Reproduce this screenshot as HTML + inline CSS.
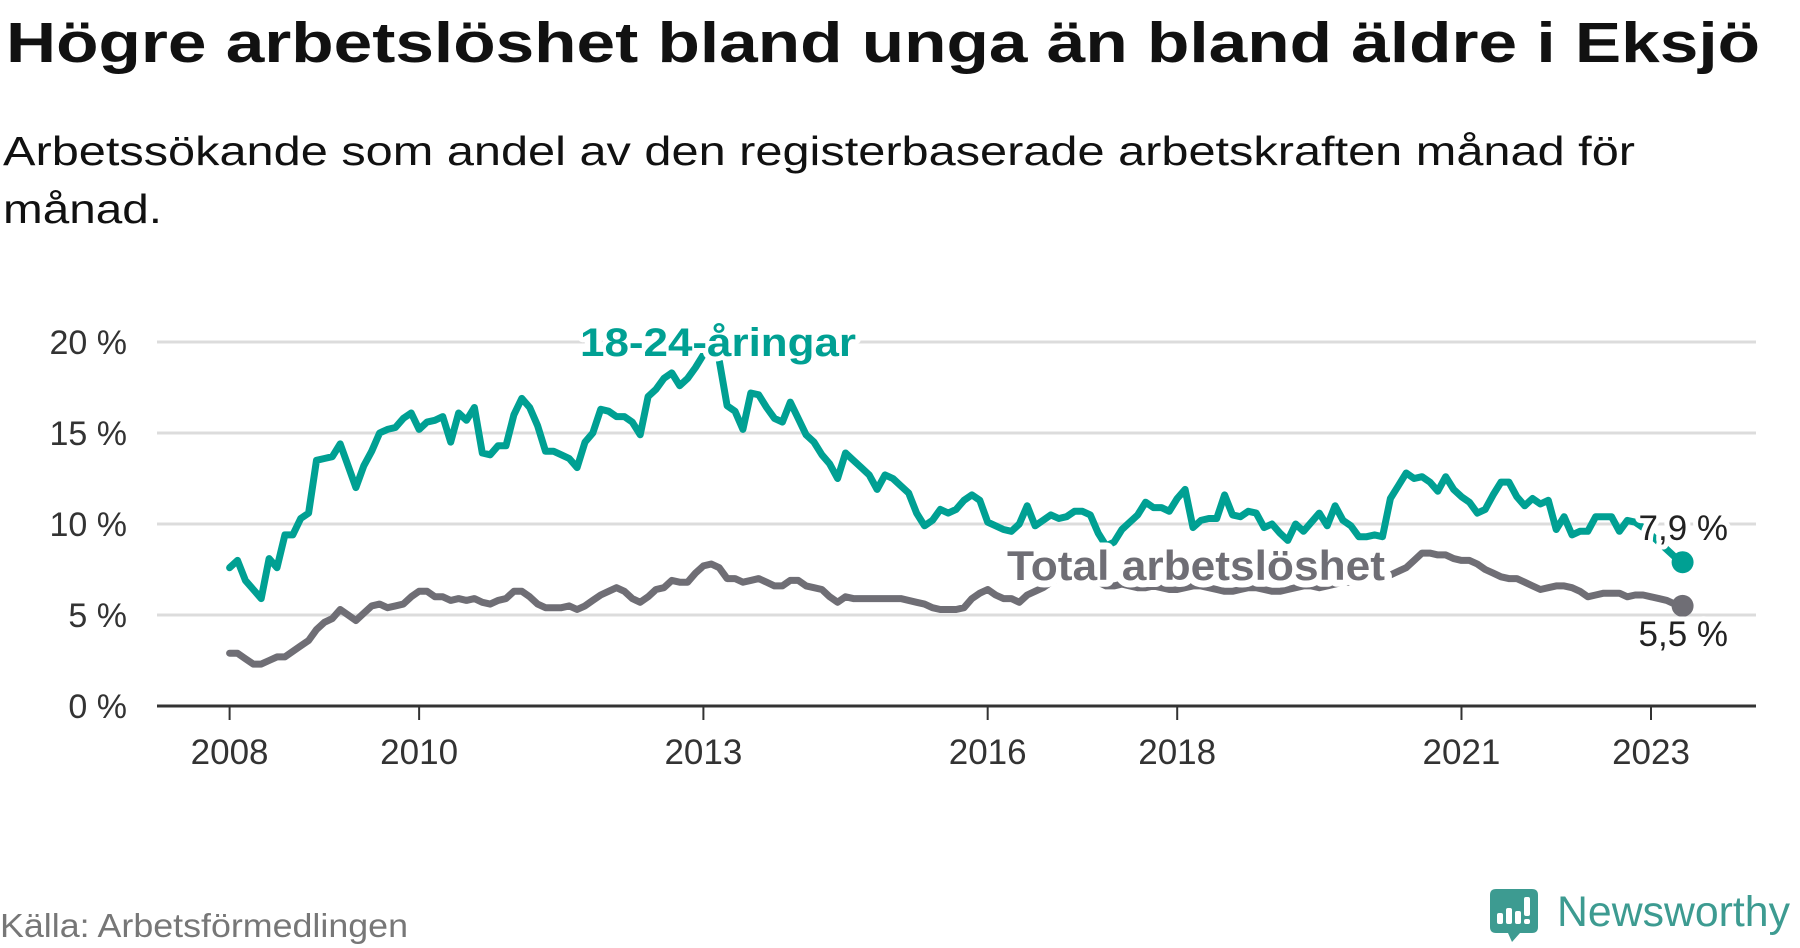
<!DOCTYPE html>
<html><head><meta charset="utf-8">
<style>
html,body{margin:0;padding:0;background:#fff;}
svg{display:block;font-family:"Liberation Sans",sans-serif;}
</style></head>
<body>
<svg id="chart" width="1800" height="948" viewBox="0 0 1800 948" xmlns="http://www.w3.org/2000/svg">
  <text x="6" y="62" font-size="57" font-weight="bold" fill="#111" textLength="1754" lengthAdjust="spacingAndGlyphs">Högre arbetslöshet bland unga än bland äldre i Eksjö</text>
  <text x="3" y="165" font-size="41" fill="#111" textLength="1632" lengthAdjust="spacingAndGlyphs">Arbetssökande som andel av den registerbaserade arbetskraften månad för</text>
  <text x="3" y="223" font-size="41" fill="#111" textLength="159" lengthAdjust="spacingAndGlyphs">månad.</text>
  <g id="grid"></g>
  <g id="series"></g>
  <g id="labels"></g>
  <text x="0" y="937" font-size="33" fill="#777" textLength="408" lengthAdjust="spacingAndGlyphs">Källa: Arbetsförmedlingen</text>
  <g>
    <path d="M1496 889 H1532 Q1538 889 1538 895 V927 Q1538 933 1532 933 H1520 L1512 942 L1508 933 H1496 Q1490 933 1490 927 V895 Q1490 889 1496 889 Z" fill="#3d9b91"/>
    <rect x="1497" y="913" width="6" height="11" rx="2" fill="#fff"/>
    <rect x="1506" y="908" width="6" height="16" rx="2" fill="#fff"/>
    <rect x="1515" y="911" width="6" height="13" rx="2" fill="#fff"/>
    <rect x="1524" y="897" width="6" height="19" rx="2" fill="#fff"/>
    <rect x="1524" y="919" width="6" height="5" rx="2" fill="#fff"/>
    <text x="1557" y="926" font-size="43" fill="#3d9b91" textLength="233" lengthAdjust="spacingAndGlyphs">Newsworthy</text>
  </g>
</svg>
<script>
const yTicks = [0, 5, 10, 15, 20];
const yTickLabels = ["0 %", "5 %", "10 %", "15 %", "20 %"];
const xTickYears = [2008, 2010, 2013, 2016, 2018, 2021, 2023];
const startYear = 2008;
const youth = [7.6,8.0,6.9,6.4,5.9,8.1,7.6,9.4,9.4,10.3,
10.6,13.5,13.6,13.7,14.4,13.2,12.0,13.2,14.0,15.0,
15.2,15.3,15.8,16.1,15.2,15.6,15.7,15.9,14.5,16.1,
15.7,16.4,13.9,13.8,14.3,14.3,16.0,16.9,16.4,15.4,
14.0,14.0,13.8,13.6,13.1,14.5,15.0,16.3,16.2,15.9,
15.9,15.6,14.9,17.0,17.4,18.0,18.3,17.6,18.0,18.6,
19.3,20.0,19.0,16.5,16.2,15.2,17.2,17.1,16.4,15.8,
15.6,16.7,15.8,14.9,14.5,13.8,13.3,12.5,13.9,13.5,
13.1,12.7,11.9,12.7,12.5,12.1,11.7,10.6,9.9,10.2,
10.8,10.6,10.8,11.3,11.6,11.3,
10.1,9.9,9.7,9.6,10.0,11.0,9.9,10.2,10.5,10.3,
10.4,10.7,10.7,10.5,9.5,8.8,9.0,9.7,10.1,10.5,
11.2,10.9,10.9,10.7,11.4,11.9,9.8,10.2,10.3,10.3,
11.6,10.5,10.4,10.7,10.6,9.8,10.0,9.5,9.1,10.0,
9.6,10.1,10.6,9.9,11.0,10.2,9.9,9.3,9.3,9.4,
9.3,11.4,12.1,12.8,12.5,12.6,12.3,11.8,12.6,
11.9,11.5,11.2,10.6,10.8,11.6,12.3,12.3,11.5,11.0,
11.4,11.1,11.3,9.7,10.4,9.4,9.6,9.6,10.4,10.4,
10.4,9.6,10.2,10.1,9.8,9.4,9.0,8.6,8.2,7.9];
const total = [2.9,2.9,2.6,2.3,2.3,2.5,2.7,2.7,3.0,3.3,
3.6,4.2,4.6,4.8,5.3,5.0,4.7,5.1,5.5,5.6,
5.4,5.5,5.6,6.0,6.3,6.3,6.0,6.0,5.8,5.9,
5.8,5.9,5.7,5.6,5.8,5.9,6.3,6.3,6.0,5.6,
5.4,5.4,5.4,5.5,5.3,5.5,5.8,6.1,6.3,6.5,
6.3,5.9,5.7,6.0,6.4,6.5,6.9,6.8,6.8,7.3,
7.7,7.8,7.6,7.0,7.0,6.8,6.9,7.0,6.8,6.6,
6.6,6.9,6.9,6.6,6.5,6.4,6.0,5.7,6.0,5.9,
5.9,5.9,5.9,5.9,5.9,5.9,5.8,5.7,5.6,5.4,
5.3,5.3,5.3,5.4,5.9,6.2,6.4,6.1,5.9,5.9,
5.7,6.1,6.3,6.5,6.8,7.0,7.0,7.1,7.0,6.9,
6.8,6.6,6.6,6.7,6.6,6.5,6.5,6.6,6.5,6.4,
6.4,6.5,6.6,6.6,6.5,6.4,6.3,6.3,6.4,6.5,
6.5,6.4,6.3,6.3,6.4,6.5,6.6,6.6,6.5,6.6,
6.7,6.8,6.8,6.9,7.0,7.0,7.1,7.2,7.4,7.6,
8.0,8.4,8.4,8.3,8.3,8.1,8.0,8.0,7.8,7.5,
7.3,7.1,7.0,7.0,6.8,6.6,6.4,6.5,6.6,6.6,
6.5,6.3,6.0,6.1,6.2,6.2,6.2,6.0,6.1,6.1,
6.0,5.9,5.8,5.6,5.5];

const NS = "http://www.w3.org/2000/svg";
const X0 = 229.6, PX_PER_YEAR = 94.76, Y0 = 706, PX_PER_PCT = 18.2;
function xYear(y){ return X0 + (y - startYear) * PX_PER_YEAR; }
function xIdx(i){ return xYear(startYear + i / 12); }
function yVal(v){ return Y0 - v * PX_PER_PCT; }
function mk(tag, attrs, parent){
  const e = document.createElementNS(NS, tag);
  for (const k in attrs) e.setAttribute(k, attrs[k]);
  parent.appendChild(e);
  return e;
}
const grid = document.getElementById('grid');
const series = document.getElementById('series');
const labels = document.getElementById('labels');

yTicks.forEach((t, i) => {
  if (t !== 0) {
    const g = mk('line', {x1:157, x2:1756, y1:yVal(t), y2:yVal(t), stroke:'#dcdcdc', 'stroke-width':3}, grid);
    
    
  }
  const lb = mk('text', {x:127, y:yVal(t)+12, 'font-size':34, fill:'#333', 'text-anchor':'end'}, grid);
  lb.textContent = yTickLabels[i];
  
  
});
const axis = mk('line', {x1:157, x2:1756, y1:Y0, y2:Y0, stroke:'#333', 'stroke-width':3}, grid);


xTickYears.forEach(yr => {
  const tk = mk('line', {x1:xYear(yr), x2:xYear(yr), y1:Y0, y2:Y0+14, stroke:'#333', 'stroke-width':2}, grid);
  
  
  const lb = mk('text', {x:xYear(yr), y:764, 'font-size':35, fill:'#333', 'text-anchor':'middle'}, grid);
  lb.textContent = String(yr);
  
  
});

function pathFor(arr){ return arr.map((v,i)=>(i?'L':'M')+xIdx(i).toFixed(1)+' '+yVal(v).toFixed(1)).join(' '); }
const pt = mk('path', {d:pathFor(total), fill:'none', stroke:'#6f6e75', 'stroke-width':7, 'stroke-linejoin':'round', 'stroke-linecap':'round'}, series);


const py = mk('path', {d:pathFor(youth), fill:'none', stroke:'#00a093', 'stroke-width':7, 'stroke-linejoin':'round', 'stroke-linecap':'round'}, series);


const lt = total.length - 1, ly = youth.length - 1;
const dt = mk('circle', {cx:xIdx(lt), cy:yVal(total[lt]), r:11, fill:'#6f6e75'}, series);


const dy = mk('circle', {cx:xIdx(ly), cy:yVal(youth[ly]), r:11, fill:'#00a093'}, series);



function halo(attrs, txt, name){
  const t = mk('text', Object.assign({stroke:'#fff', 'stroke-width':10, 'paint-order':'stroke', 'stroke-linejoin':'round'}, attrs), labels);
  t.textContent = txt;
  
  
  return t;
}
halo({x:580, y:356, 'font-size':40, 'font-weight':'bold', fill:'#00a093', textLength:276, lengthAdjust:'spacingAndGlyphs'}, '18-24-åringar', 'youth-series-label');
halo({x:1007, y:580, 'font-size':42, 'font-weight':'bold', fill:'#6f6e75', textLength:378, lengthAdjust:'spacingAndGlyphs', 'stroke-width':14}, 'Total arbetslöshet', 'total-series-label');
halo({x:1728, y:540, 'font-size':35, fill:'#222', 'text-anchor':'end'}, youth[ly].toFixed(1).replace('.', ',') + ' %', 'youth-end-value');
halo({x:1728, y:646, 'font-size':35, fill:'#222', 'text-anchor':'end'}, total[lt].toFixed(1).replace('.', ',') + ' %', 'total-end-value');
</script>
</body></html>
